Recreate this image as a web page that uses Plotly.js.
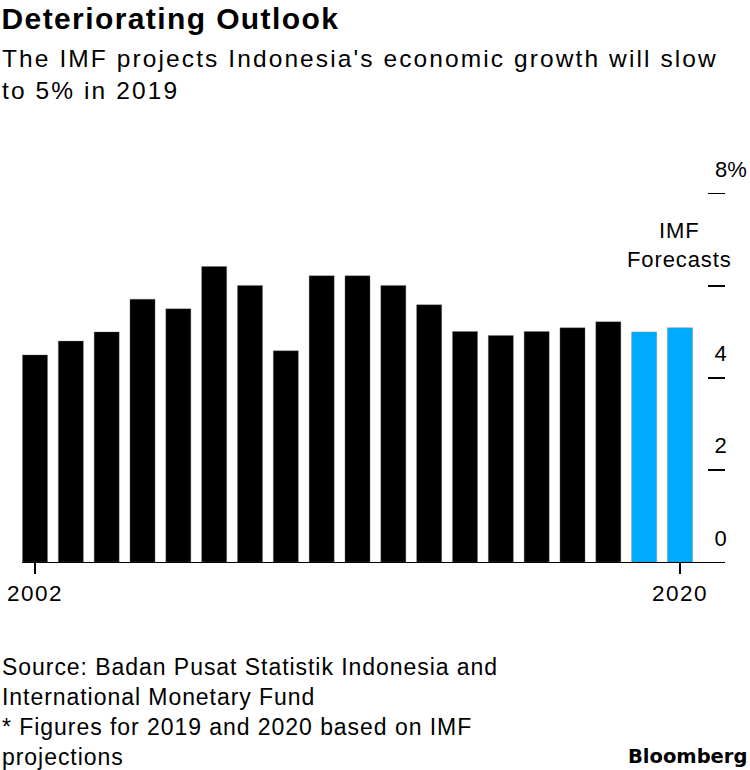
<!DOCTYPE html>
<html>
<head>
<meta charset="utf-8">
<script src="https://cdn.plot.ly/plotly-3.0.1.min.js"></script>
<style>
html,body{margin:0;padding:0;background:#fff;}
#chart{width:750px;height:770px;}
.gtitle{letter-spacing:1.4px !important;}
.xtick text{letter-spacing:1.5px !important;}
</style>
</head>
<body>
<div id="chart"></div>
<script>
// ---- data ----
const years = [2002, 2003, 2004, 2005, 2006, 2007, 2008, 2009, 2010, 2011,
               2012, 2013, 2014, 2015, 2016, 2017, 2018, 2019, 2020];
const growth = [4.50, 4.80, 5.00, 5.71, 5.50, 6.42, 6.01, 4.59, 6.22, 6.22,
                6.01, 5.59, 5.01, 4.92, 5.01, 5.09, 5.22, 5.00, 5.09];
const forecastYears = [2019, 2020];
const yTickVals = [0, 2, 4, 6, 8];
const yTickLabels = ['0', '2', '4', '', '8%'];
const xTickVals = [2002, 2020];
const xTickLabels = ['2002', '2020'];

const FONT = '"Liberation Sans", Arial, Helvetica, sans-serif';
const LOGO_FONT = '"DejaVu Sans", "Liberation Sans", Arial, sans-serif';
const BLACK = '#000000';
const BLUE = '#00abff';

const colors = years.map(y => forecastYears.includes(y) ? BLUE : BLACK);

const trace = {
  type: 'bar',
  x: years,
  y: growth,
  marker: { color: colors, line: { color: 'rgba(120,120,120,0.6)', width: 0.6 } },
  hoverinfo: 'x+y'
};

const annotations = [];
const spacing = {}; // annotation index -> letter spacing
function addAnn(a, ls) {
  if (ls) spacing[annotations.length] = ls;
  annotations.push(a);
}
yTickVals.forEach((v, i) => {
  if (!yTickLabels[i]) return;
  addAnn({
    xref: 'paper', yref: 'y', x: 0.983, y: v, xanchor: 'left', yanchor: 'middle',
    yshift: 24, text: yTickLabels[i], showarrow: false,
    font: { family: FONT, size: 22, color: '#000' }
  }, yTickLabels[i].length === 1 ? '1px' : null);
});
addAnn({
  xref: 'x', yref: 'y', x: 2020, y: 6.88, xanchor: 'center', yanchor: 'middle',
  text: 'IMF<br>Forecasts', showarrow: false, align: 'center',
  font: { family: FONT, size: 22, color: '#000' }
}, '0.9px');
addAnn({
  xref: 'paper', yref: 'paper', x: -0.0313, y: 1.3586, xanchor: 'left', yanchor: 'top',
  text: "The IMF projects Indonesia's economic growth will slow<br>to 5% in 2019",
  showarrow: false, align: 'left',
  font: { family: FONT, size: 24.5, color: '#000' }
}, '2.1px');
addAnn({
  xref: 'paper', yref: 'paper', x: -0.0313, y: -0.2369, xanchor: 'left', yanchor: 'top',
  text: 'Source: Badan Pusat Statistik Indonesia and<br>International Monetary Fund<br>* Figures for 2019 and 2020 based on IMF<br>projections',
  showarrow: false, align: 'left',
  font: { family: FONT, size: 23, color: '#000' }
}, '0.95px');
addAnn({
  xref: 'paper', yref: 'paper', x: 1.0341, y: -0.4728, xanchor: 'right', yanchor: 'top',
  text: '<b>Bloomberg</b>', showarrow: false,
  font: { family: LOGO_FONT, size: 19.5, color: '#000' }
}, null);

// letter spacing rules for annotations
const css = Object.keys(spacing).map(i =>
  `.annotation[data-index="${i}"] text{letter-spacing:${spacing[i]} !important;}`).join('\n');
const st = document.createElement('style');
st.textContent = css;
document.head.appendChild(st);

const layout = {
  width: 750, height: 770,
  margin: { l: 22, r: 25, t: 180, b: 208, pad: 0 },
  paper_bgcolor: '#fff', plot_bgcolor: '#fff',
  showlegend: false,
  bargap: 0.30,
  title: {
    text: '<b>Deteriorating Outlook</b>',
    xref: 'container', yref: 'container', x: 0.002, xanchor: 'left',
    y: 0.989, yanchor: 'top',
    font: { family: FONT, size: 30, color: '#000' }
  },
  xaxis: {
    type: 'linear',
    range: [2001.637, 2021.256],
    tickvals: xTickVals, ticktext: xTickLabels,
    ticks: 'outside', ticklen: 11, tickwidth: 1.3, tickcolor: '#000',
    showline: true, linecolor: '#000', linewidth: 1.3,
    showgrid: false, zeroline: false,
    tickfont: { family: FONT, size: 22.5, color: '#000' }
  },
  yaxis: {
    range: [0, 8.3],
    side: 'right',
    tickvals: yTickVals,
    showticklabels: false,
    ticks: 'inside', ticklen: 17, tickwidth: 1.3, tickcolor: '#000',
    showline: false, showgrid: false, zeroline: false
  },
  annotations: annotations
};

Plotly.newPlot('chart', [trace], layout, { displayModeBar: false, staticPlot: true });
</script>
</body>
</html>
